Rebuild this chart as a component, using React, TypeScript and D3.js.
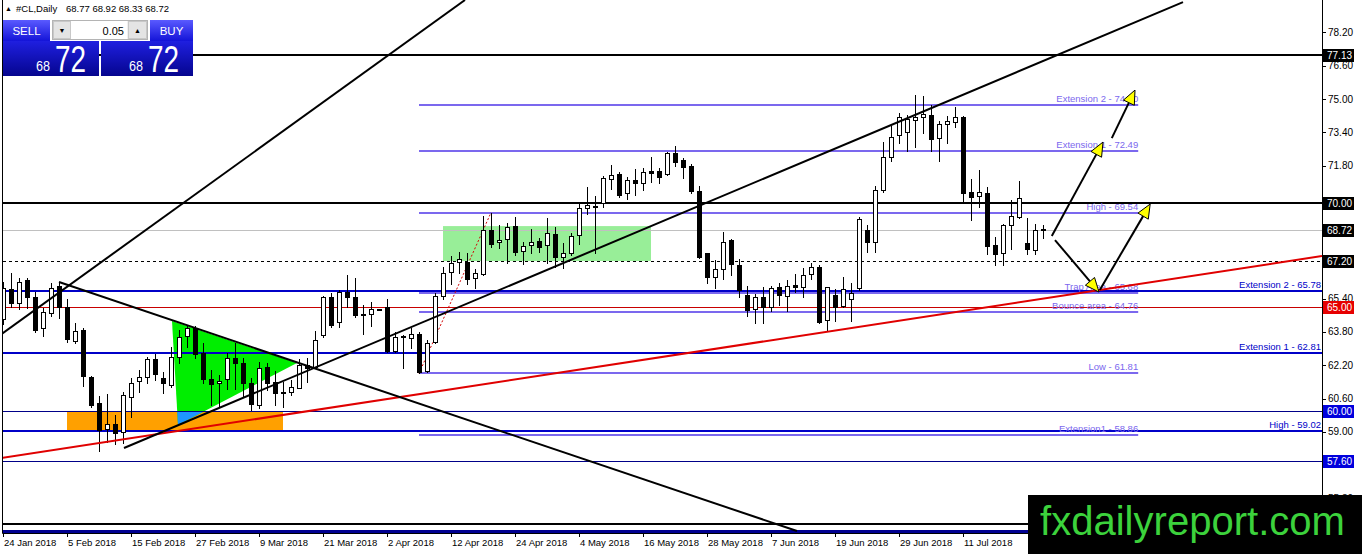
import React from 'react';
import * as d3 from 'd3';

const W = 1362;
const H = 554;

const dateLabels = ["24 Jan 2018","5 Feb 2018","15 Feb 2018","27 Feb 2018","9 Mar 2018","21 Mar 2018","2 Apr 2018","12 Apr 2018","24 Apr 2018","4 May 2018","16 May 2018","28 May 2018","7 Jun 2018","19 Jun 2018","29 Jun 2018","11 Jul 2018"];
const dateLabelBars = [0,8,16,24,32,40,48,56,64,72,80,88,96,104,112,120];

const opens = [64.4,65.85,65.18,66.3,65.5,63.97,64.7,66.01,65.02,63.37,63.9,61.65,60.4,59.13,59.36,59.01,60.66,61.43,61.62,62.48,61.6,61.25,62.58,63.6,63.97,62.8,61.52,61.33,61.54,62.57,62.29,61.33,60.29,62.13,61.38,60.92,60.93,61.12,62.21,62.13,63.65,65.47,64.26,65.74,65.47,64.65,64.65,64.89,65.02,62.89,63.62,63.49,63.7,61.92,63.3,65.55,66.7,67.15,67.18,66.38,66.59,68.7,68.11,68.25,68.9,67.71,67.97,68.17,67.98,68.49,67.42,67.61,68.46,69.74,69.85,69.99,71.14,71.4,70.47,71.11,70.95,71.54,71.54,71.4,72.39,72.07,71.78,70.6,67.58,66.46,66.81,68.22,67.02,65.58,64.89,65.47,65.02,65.95,65.53,66.04,65.98,66.57,66.94,64.38,65.58,65.05,65.37,65.9,68.7,68.14,70.63,72.2,73.27,73.43,73.99,74.12,74.23,73.11,73.8,73.91,74.15,70.51,70.34,70.46,67.98,67.58,68.94,69.31,68.09,67.74,68.77];
const highs = [66.2,66.62,66.38,66.38,65.74,64.94,66.17,66.22,65.37,64.25,63.97,61.68,60.72,60.82,59.81,60.93,61.57,61.97,62.6,62.72,61.89,63.06,63.9,64.14,64.09,63.28,61.97,61.73,62.77,63.25,62.57,61.57,62.37,62.29,61.92,61.38,61.49,62.5,62.53,63.85,65.55,65.66,65.82,66.54,66.38,65.1,65.22,64.92,65.39,63.81,63.65,64.01,63.81,63.41,65.66,66.94,67.45,67.66,67.61,66.81,69.38,69.54,68.94,69.02,69.31,68.14,68.74,68.3,69.26,68.83,68.09,68.58,69.95,70.79,70.35,71.3,71.83,71.51,71.24,71.62,71.67,72.2,71.67,72.47,72.74,72.15,71.88,70.8,67.6,67.26,68.62,68.25,67.29,66.01,65.63,65.95,66.01,66.17,66.3,66.59,66.86,67.1,67.02,65.97,65.85,66.46,66.17,69.34,68.94,70.82,72.95,73.7,74.34,74.23,75.19,75.14,74.71,73.96,74.18,74.6,74.18,71.14,71.59,70.78,68.38,68.99,70.14,71.07,69.26,68.99,68.92];
const lows = [64.2,65.02,64.89,64.94,63.81,63.61,64.57,64.46,63.33,63.25,61.2,60.21,58.09,58.53,58.4,58.48,59.7,60.93,61.36,61.49,60.88,61.17,62.29,63.06,62.53,61.36,60.29,60.21,61.06,61.06,60.69,60.05,60.13,61.01,60.29,60.21,60.77,61.09,61.38,62.05,63.57,64.06,64.06,65.02,64.54,63.69,64.1,64.85,62.85,62.85,62.05,63.01,61.81,61.86,63.25,65.4,66.1,66.65,66.11,65.9,66.54,67.9,67.82,67.1,67.5,67.07,67.58,67.66,67.13,66.94,66.86,67.5,68.03,69.47,67.58,69.79,70.66,70.31,70.18,70.39,70.63,71.03,70.95,71.35,71.78,71.19,70.47,67.35,66.14,65.9,66.33,66.54,65.5,64.57,64.22,64.25,64.82,65.1,64.82,65.74,65.47,66.33,64.25,63.89,64.34,65.0,64.34,65.82,67.66,67.66,70.55,72.04,72.87,72.52,72.68,73.38,72.52,72.04,72.9,73.64,69.98,69.18,69.79,67.55,67.02,67.02,67.77,69.26,67.55,67.55,68.33];
const closes = [65.9,65.21,66.22,65.47,63.89,64.78,65.9,65.02,63.45,63.86,61.68,60.29,59.09,59.36,58.93,60.77,61.36,61.62,62.48,61.76,61.33,62.61,63.54,63.97,62.74,61.52,61.3,61.44,62.57,62.29,61.33,60.32,62.08,61.33,60.85,60.88,61.17,62.21,62.05,63.41,65.47,64.14,65.71,65.47,64.62,64.62,64.89,64.88,62.89,63.57,63.57,63.69,61.89,63.25,65.55,66.65,67.1,67.31,66.33,66.62,68.7,68.03,68.22,68.86,67.66,67.93,68.11,67.9,68.54,67.42,67.61,68.43,69.74,69.9,69.8,71.19,71.35,70.39,71.11,70.95,71.48,71.46,71.27,72.39,71.99,71.75,70.59,67.39,66.46,66.81,68.14,67.05,65.82,64.86,65.47,65.02,65.9,65.58,66.03,65.98,66.54,66.94,64.3,65.95,65.02,65.85,65.66,69.22,68.14,70.63,72.23,73.19,74.15,74.02,74.15,74.28,73.06,73.8,73.94,74.12,70.5,70.27,70.51,67.95,67.55,68.94,69.38,70.22,67.77,68.7,68.72];

const axisTicks = [78.2,76.6,75.0,73.4,71.8,70.2,68.6,67.0,65.4,63.8,62.2,60.6,59.0,57.4,55.8];

const blackLevels = [77.13, 70.0];
const greyLevels = [68.72];
const dashedLevels = [67.2];
const redLevels = [65.0];
const blueThickLevels = [65.78, 62.81, 59.02];
const blueThinLevels = [60.0, 57.6];
const bottomBlackLevels = [54.57];
const bottomBlueLevels = [54.23];

const blackTags = [77.13, 70.0, 68.72, 67.2];
const redTags = [65.0];
const blueTags = [60.0, 57.6];

const blueLabelNames = ["Extension 2", "Extension 1", "High"];
const blueLabelValues = [65.78, 62.81, 59.02];

const fibNames = ["Extension 2","Extension 1","High","Trap Area","Bounce area","Low","Extension1"];
const fibValues = [74.70, 72.49, 69.54, 65.68, 64.76, 61.81, 58.86];
const fibBars = [52, 141.9];

const trendBlackA = [[-0.375, 63.65],[57.75, 79.76]];
const trendBlackB = [[7, 66.2],[99.25, 54.23]];
const trendBlackC = [[15.125, 58.22],[147.5, 79.66]];
const trendRed = [[-0.375, 57.73],[164.875, 67.45]];
const fibDotted = [[52, 61.81],[61, 69.54]];

const orangeBars = [8, 35];
const orangePrices = [60.0, 59.02];
const greenTriangle = [[21.125, 64.33],[21.875, 59.33],[36.75, 62.31]];
const lightGreenBars = [55, 81];
const lightGreenPrices = [68.89, 67.21];

const arrows = [
  [[131.1, 68.41],[137.5, 72.93]],
  [[138.6, 73.12],[141.5, 75.43]],
  [[131.5, 68.22],[137.0, 65.72]],
  [[137.1, 65.82],[143.4, 69.95]],
];

const headerSymbol = "#CL,Daily";
const headerOHLC = "68.77 68.92 68.33 68.72";
const bidBig = "72", bidSmall = "68";
const lotSize = "0.05";

const FONT = "'Liberation Sans', Arial, sans-serif";

const PLOT_L = 3, PLOT_R = 1322, PLOT_B = 533;
const LOGO_X = 1028, LOGO_Y = 495;

export default function App() {
  const x = d3.scaleLinear().domain([0, 130]).range([3, 1043]);
  const y = d3.scaleLinear().domain([54.135, 79.76]).range([PLOT_B, 0]);
  const ly = (v: number) => Math.round(y(v)) + 0.5;
  const pt = (p: number[]) => [x(p[0]), y(p[1])];
  const seg = (s: number[][]) => {
    const [a, b] = [pt(s[0]), pt(s[1])];
    return { x1: a[0], y1: a[1], x2: b[0], y2: b[1] };
  };
  const hline = (v: number, key: string, stroke: string, sw: number, dash?: string) => {
    const yy = sw % 2 === 0 ? Math.round(y(v)) : ly(v);
    return <line key={key} x1={PLOT_L} x2={PLOT_R} y1={yy} y2={yy} stroke={stroke} strokeWidth={sw} strokeDasharray={dash} />;
  };

  const allTags = [...blackTags, ...redTags, ...blueTags];
  // tick labels fully hidden behind a price tag are not drawn (as in the terminal)
  const visibleTicks = axisTicks.filter(v => allTags.every(t => Math.abs(y(t) - y(v)) > 4.5));

  const arrowEls = arrows.map((a, i) => {
    const [p1, p2] = [pt(a[0]), pt(a[1])];
    const dx = p2[0] - p1[0], dy = p2[1] - p1[1];
    const len = Math.hypot(dx, dy);
    const ux = dx / len, uy = dy / len;
    const hl = 14, hw = 6;
    const bx = p2[0] - ux * hl, by = p2[1] - uy * hl;
    const pts = [[p2[0], p2[1]], [bx - uy * hw, by + ux * hw], [bx + uy * hw, by - ux * hw]];
    return (
      <g key={'ar' + i}>
        <line x1={p1[0]} y1={p1[1]} x2={bx} y2={by} stroke="#000" strokeWidth={2} />
        <polygon points={pts.map(p => p.join(',')).join(' ')} fill="#ffff00" stroke="#000" strokeWidth={1} />
      </g>
    );
  });

  const triPts = greenTriangle.map(p => pt(p).join(',')).join(' ');

  return (
    <svg width={W} height={H} style={{ position: 'absolute', left: 0, top: 0, background: '#fff' }} fontFamily={FONT}>
      <defs>
        <clipPath id="plot"><rect x={PLOT_L} y={0} width={PLOT_R - PLOT_L} height={PLOT_B} /></clipPath>
        <clipPath id="orangeClip"><rect x={x(orangeBars[0])} y={y(orangePrices[0])} width={x(orangeBars[1]) - x(orangeBars[0])} height={y(orangePrices[1]) - y(orangePrices[0])} /></clipPath>
        <linearGradient id="btn" x1="0" y1="0" x2="0" y2="1">
          <stop offset="0" stopColor="#5a5aff" />
          <stop offset="1" stopColor="#1414d8" />
        </linearGradient>
        <linearGradient id="big" x1="0" y1="0" x2="0" y2="1">
          <stop offset="0" stopColor="#1f1fe0" />
          <stop offset="1" stopColor="#05058e" />
        </linearGradient>
      </defs>

      <g clipPath="url(#plot)">
        <rect x={x(orangeBars[0])} y={y(orangePrices[0])} width={x(orangeBars[1]) - x(orangeBars[0])} height={y(orangePrices[1]) - y(orangePrices[0])} fill="#ffa000" />
        <rect x={x(lightGreenBars[0])} y={y(lightGreenPrices[0])} width={x(lightGreenBars[1]) - x(lightGreenBars[0])} height={y(lightGreenPrices[1]) - y(lightGreenPrices[0])} fill="#98ee98" />
        <polygon points={triPts} fill="#00ee00" />
        <polygon points={triPts} fill="#1e96ff" clipPath="url(#orangeClip)" />

        {greyLevels.map((v, i) => hline(v, 'g' + i, '#c0c0c0', 1))}
        {dashedLevels.map((v, i) => hline(v, 'd' + i, '#000', 1, '3,3'))}
        {redLevels.map((v, i) => hline(v, 'r' + i, '#c80000', 1))}
        {blueThinLevels.map((v, i) => hline(v, 'bt' + i, '#000088', 1))}
        {blueThickLevels.map((v, i) => hline(v, 'bk' + i, '#0000c8', 2))}
        {blackLevels.map((v, i) => hline(v, 'k' + i, '#000', 2))}
        {bottomBlackLevels.map((v, i) => hline(v, 'bb' + i, '#000', 2))}
        {bottomBlueLevels.map((v, i) => hline(v, 'bl' + i, '#000090', 3))}

        {fibValues.map((v, i) => (
          <g key={'f' + i}>
            <line x1={x(fibBars[0])} x2={x(fibBars[1])} y1={Math.round(y(v))} y2={Math.round(y(v))} stroke="#7b68ee" strokeWidth={2} />
            <text x={x(fibBars[1])} y={Math.round(y(v)) - 3} textAnchor="end" fontSize={9.5} fill="#7b68ee">{fibNames[i]} - {v.toFixed(2)}</text>
          </g>
        ))}
        {blueLabelValues.map((v, i) => (
          <text key={'bln' + i} x={PLOT_R - 1} y={Math.round(y(v)) - 3} textAnchor="end" fontSize={9.5} fill="#0000c8">{blueLabelNames[i]} - {v.toFixed(2)}</text>
        ))}

        <line {...seg(fibDotted)} stroke="#d00000" strokeWidth={1} strokeDasharray="2,2" />

        {opens.map((o, i) => {
          const c = closes[i];
          const base = Math.round(x(i));
          const cx = base + 0.5;
          const top = Math.round(y(Math.max(o, c))) + 0.5;
          const bot = Math.round(y(Math.min(o, c))) + 0.5;
          const bull = c >= o;
          return (
            <g key={'c' + i}>
              <line x1={cx} x2={cx} y1={Math.round(y(highs[i]))} y2={Math.round(y(lows[i])) + 1} stroke="#000" strokeWidth={1} />
              <rect x={base - 1.5} y={top} width={4} height={Math.max(0.01, bot - top)} fill={bull ? '#fff' : '#000'} stroke="#000" strokeWidth={1} />
            </g>
          );
        })}

        <line {...seg(trendRed)} stroke="#e00000" strokeWidth={2} />
        <line {...seg(trendBlackA)} stroke="#000" strokeWidth={2} />
        <line {...seg(trendBlackB)} stroke="#000" strokeWidth={2} />
        <line {...seg(trendBlackC)} stroke="#000" strokeWidth={2} />

        {arrowEls}
      </g>

      <line x1={2.5} x2={2.5} y1={0} y2={PLOT_B + 0.5} stroke="#000" />
      <line x1={PLOT_R + 0.5} x2={PLOT_R + 0.5} y1={0} y2={H} stroke="#000" />
      <line x1={2.5} x2={PLOT_R + 0.5} y1={PLOT_B + 0.5} y2={PLOT_B + 0.5} stroke="#000" />

      {axisTicks.map((v, i) => (
        <line key={'tk' + i} x1={PLOT_R} x2={PLOT_R + 4} y1={ly(v)} y2={ly(v)} stroke="#000" />
      ))}
      {visibleTicks.map((v, i) => (
        <text key={'t' + i} x={PLOT_R + 6} y={y(v) + 3.5} fontSize={10} fill="#000">{v.toFixed(2)}</text>
      ))}
      {[...blackTags.map(v => [v, '#000']), ...redTags.map(v => [v, '#e60000']), ...blueTags.map(v => [v, '#0000dd'])].map(([v, col], i) => (
        <g key={'tag' + i}>
          <rect x={PLOT_R + 1} y={Math.round(y(v as number)) - 6} width={31} height={13} fill={col as string} />
          <text x={PLOT_R + 5} y={Math.round(y(v as number)) + 4} fontSize={10} fill="#fff">{(v as number).toFixed(2)}</text>
        </g>
      ))}

      {dateLabelBars.map((b, i) => (
        <g key={'dl' + i}>
          <line x1={Math.round(x(b)) + 0.5} x2={Math.round(x(b)) + 0.5} y1={PLOT_B} y2={PLOT_B + 4} stroke="#000" />
          <text x={x(b) + 1} y={PLOT_B + 13} fontSize={9.5} fill="#000">{dateLabels[i]}</text>
        </g>
      ))}

      <rect x={3} y={0} width={200} height={17} fill="#fff" />
      <text x={5} y={11} fontSize={7} fill="#000">▲</text>
      <text x={16} y={12} fontSize={9.5} fill="#000">{headerSymbol}</text>
      <text x={66} y={12} fontSize={9.5} fill="#000">{headerOHLC}</text>

      <rect x={3} y={20} width={47} height={21} fill="url(#btn)" />
      <text x={26.5} y={35} fontSize={11.5} fill="#fff" textAnchor="middle">SELL</text>
      <rect x={150} y={20} width={43} height={21} fill="url(#btn)" />
      <text x={171.5} y={35} fontSize={11.5} fill="#fff" textAnchor="middle">BUY</text>

      <rect x={52.5} y={20.5} width={95} height={19} fill="#f0f0f0" stroke="#b4b4b4" />
      <rect x={53.5} y={21.5} width={17} height={17} fill="#e4e4e4" stroke="#c8c8c8" />
      <text x={62} y={33} fontSize={7} textAnchor="middle" fill="#000">▼</text>
      <rect x={71} y={21} width={56} height={18} fill="#fff" />
      <text x={124} y={35} fontSize={11} textAnchor="end" fill="#000">{lotSize}</text>
      <rect x={128.5} y={21.5} width={18} height={17} fill="#e4e4e4" stroke="#c8c8c8" />
      <text x={137.5} y={33} fontSize={7} textAnchor="middle" fill="#000">▲</text>

      <rect x={3} y={41} width={96} height={35} fill="url(#big)" />
      <rect x={101} y={41} width={92} height={35} fill="url(#big)" />
      <text x={36} y={71} fontSize={14} fill="#fff" textLength={14} lengthAdjust="spacingAndGlyphs">{bidSmall}</text>
      <text x={55} y={72} fontSize={36} fill="#fff" textLength={31} lengthAdjust="spacingAndGlyphs">{bidBig}</text>
      <text x={129} y={71} fontSize={14} fill="#fff" textLength={14} lengthAdjust="spacingAndGlyphs">{bidSmall}</text>
      <text x={148} y={72} fontSize={36} fill="#fff" textLength={31} lengthAdjust="spacingAndGlyphs">{bidBig}</text>

      <rect x={LOGO_X} y={LOGO_Y} width={W - LOGO_X} height={H - LOGO_Y} fill="#000" />
      <text x={1040} y={535} fontSize={40} fill="#3cd23c" textLength={305} lengthAdjust="spacingAndGlyphs">fxdailyreport.com</text>
    </svg>
  );
}
